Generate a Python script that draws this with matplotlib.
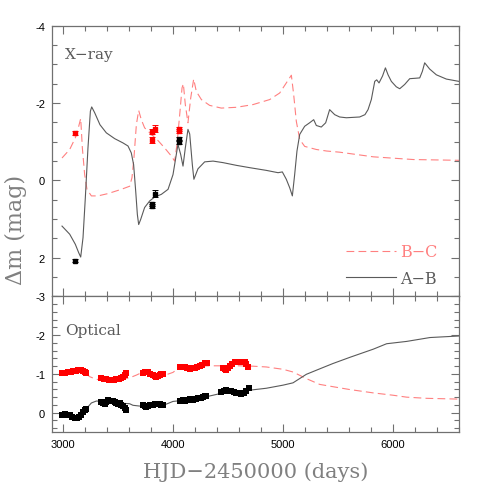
import matplotlib
matplotlib.use("Agg")
import matplotlib.pyplot as plt
from matplotlib.ticker import MultipleLocator, FixedLocator
from matplotlib.lines import Line2D

plt.rcParams['axes.unicode_minus'] = False

# ---------------- X-ray panel: model curves ----------------
xr_ab_x = [2991, 3061, 3112, 3143, 3161, 3182, 3203, 3227, 3249, 3261, 3288, 3336, 3394, 3470,
           3545, 3591, 3621, 3642, 3661, 3676, 3688, 3706, 3742, 3788, 3833, 3894, 3955, 4000,
           4030, 4045, 4070, 4091, 4112, 4136, 4152, 4176, 4190, 4227, 4288, 4364, 4455, 4576,
           4697, 4848, 4955, 4994, 5030, 5061, 5085, 5106, 5127, 5152, 5197, 5242, 5279, 5303,
           5348, 5388, 5424, 5470, 5515, 5576, 5697, 5745, 5773, 5803, 5834, 5852, 5873, 5905, 5931, 5955, 5985,
           6030, 6061, 6106, 6152, 6200, 6243, 6267, 6288, 6333, 6394, 6485, 6600]
xr_ab_y = [1.18, 1.39, 1.65, 1.87, 1.98, 1.48, 0.45, -0.84, -1.79, -1.90, -1.75, -1.44, -1.23, -1.08,
           -0.97, -0.89, -0.71, -0.41, 0.28, 0.88, 1.14, 1.01, 0.70, 0.53, 0.43, 0.36, 0.23, -0.15,
           -0.67, -0.93, -0.67, -0.37, -0.84, -1.32, -1.20, -0.40, -0.03, -0.30, -0.48, -0.50, -0.46, -0.39,
           -0.33, -0.26, -0.20, -0.22, -0.03, 0.19, 0.40, -0.15, -0.76, -1.19, -1.40, -1.49, -1.57, -1.42,
           -1.38, -1.49, -1.83, -1.70, -1.64, -1.62, -1.64, -1.70, -1.83, -2.09, -2.56, -2.60, -2.52, -2.70, -2.91, -2.73, -2.56,
           -2.42, -2.37, -2.48, -2.63, -2.64, -2.65, -2.82, -3.04, -2.88, -2.73, -2.62, -2.56]

xr_bc_x = [2991, 3061, 3112, 3143, 3161, 3176, 3197, 3218, 3258, 3318, 3409, 3530, 3606, 3627,
           3645, 3667, 3688, 3712, 3742, 3803, 3864, 3924, 3985, 4015, 4036, 4061, 4082, 4094,
           4112, 4136, 4161, 4188, 4212, 4258, 4333, 4439, 4576, 4727, 4879, 4970, 5030, 5076,
           5097, 5121, 5152, 5197, 5303, 5397, 5515, 5821, 6185, 6600]
xr_bc_y = [-0.58, -0.80, -1.10, -1.40, -1.60, -0.84, -0.15, 0.23, 0.40, 0.40, 0.34, 0.23, 0.15, -0.07,
           -0.58, -1.44, -1.81, -1.57, -1.36, -1.19, -1.03, -0.84, -0.63, -0.50, -0.93, -1.70, -2.39, -2.50,
           -1.96, -1.49, -2.13, -2.62, -2.30, -2.09, -1.94, -1.87, -1.89, -1.96, -2.09, -2.26, -2.52, -2.72,
           -2.22, -1.53, -1.06, -0.88, -0.80, -0.76, -0.73, -0.61, -0.54, -0.52]

# ---------------- X-ray panel: measurements ----------------
xr_bc_obs_x = [3112, 3809, 3833, 3812, 4052, 4052]
xr_bc_obs_y = [-1.23, -1.26, -1.34, -1.05, -1.33, -1.28]
xr_bc_obs_e = [0.05, 0.06, 0.09, 0.07, 0.06, 0.06]

xr_ab_obs_x = [3112, 3809, 3809, 3839, 4052, 4052]
xr_ab_obs_y = [2.08, 0.62, 0.66, 0.34, -1.08, -1.00]
xr_ab_obs_e = [0.04, 0.05, 0.05, 0.08, 0.05, 0.05]

# ---------------- Optical panel: model curves ----------------
op_bc_x = [3000, 3100, 3200, 3242, 3303, 3400, 3500, 3606, 3667, 3697, 3800, 3939, 4000, 4045,
           4150, 4250, 4333, 4394, 4500, 4600, 4727, 4848, 5000, 5091, 5212, 5333, 5455, 5600,
           5821, 6000, 6124, 6306, 6600]
op_bc_y = [-1.02, -1.07, -1.03, -0.93, -0.86, -0.84, -0.85, -0.90, -0.97, -1.01, -1.02, -0.98, -1.04, -1.14,
           -1.17, -1.20, -1.21, -1.21, -1.21, -1.21, -1.20, -1.18, -1.12, -1.05, -0.88, -0.73, -0.67, -0.60,
           -0.51, -0.45, -0.40, -0.37, -0.35]

op_ab_x = [3000, 3060, 3110, 3160, 3212, 3258, 3303, 3400, 3500, 3606, 3636, 3697, 3800, 3939,
           4000, 4100, 4200, 4300, 4364, 4424, 4550, 4697, 4848, 5000, 5091, 5212, 5333, 5455,
           5609, 5821, 5942, 6124, 6336, 6600]
op_ab_y = [0.03, 0.07, 0.12, 0.05, -0.10, -0.25, -0.30, -0.29, -0.25, -0.23, -0.19, -0.17, -0.19, -0.22,
           -0.29, -0.32, -0.35, -0.41, -0.45, -0.49, -0.53, -0.58, -0.63, -0.71, -0.77, -0.99, -1.13, -1.27,
           -1.43, -1.64, -1.78, -1.84, -1.94, -1.98]

# ---------------- Optical panel: measurements ----------------
op_bc_obs_x = [2988, 3015, 3045, 3070, 3091, 3115, 3136, 3160, 3182, 3200, 3212,
               3349, 3370, 3394, 3415, 3440, 3462, 3485, 3508, 3530, 3548, 3561, 3576,
               3727, 3750, 3773, 3795, 3818, 3835, 3849, 3865, 3879, 3895, 3909,
               4061, 4085, 4106, 4130, 4152, 4175, 4197, 4220, 4242, 4265, 4288, 4309,
               4455, 4470, 4485, 4500, 4515, 4538, 4561, 4585, 4606, 4630, 4652, 4668, 4682]
op_bc_obs_y = [-1.03, -1.02, -1.04, -1.05, -1.07, -1.08, -1.10, -1.10, -1.08, -1.05, -1.02,
               -0.90, -0.88, -0.86, -0.85, -0.84, -0.85, -0.86, -0.88, -0.90, -0.93, -0.97, -1.03,
               -1.03, -1.04, -1.05, -1.01, -0.97, -0.94, -0.92, -0.95, -0.98, -1.00, -1.01,
               -1.17, -1.18, -1.18, -1.16, -1.14, -1.15, -1.16, -1.19, -1.21, -1.24, -1.27, -1.29,
               -1.16, -1.13, -1.10, -1.16, -1.21, -1.26, -1.30, -1.31, -1.31, -1.31, -1.30, -1.25, -1.18]

op_ab_obs_x = [2988, 3015, 3040, 3061, 3085, 3106, 3127, 3150, 3167, 3185, 3197, 3212,
               3349, 3365, 3379, 3395, 3409, 3425, 3440, 3455, 3470, 3485, 3500, 3515, 3530, 3546, 3561, 3576,
               3727, 3743, 3758, 3773, 3788, 3803, 3818, 3834, 3849, 3864, 3879, 3894, 3909,
               4061, 4076, 4091, 4106, 4121, 4137, 4152, 4167, 4182, 4197, 4212, 4227, 4242, 4258, 4273, 4288, 4303,
               4440, 4462, 4485, 4508, 4531, 4553, 4576, 4599, 4622, 4645, 4667, 4691]
op_ab_obs_y = [0.05, 0.03, 0.05, 0.07, 0.10, 0.14, 0.13, 0.11, 0.05, -0.02, -0.06, -0.10,
               -0.28, -0.25, -0.23, -0.28, -0.32, -0.30, -0.29, -0.31, -0.28, -0.26, -0.23, -0.24, -0.21, -0.17, -0.12, -0.06,
               -0.19, -0.17, -0.15, -0.17, -0.19, -0.20, -0.21, -0.22, -0.23, -0.22, -0.22, -0.21, -0.21,
               -0.29, -0.31, -0.32, -0.31, -0.32, -0.33, -0.34, -0.33, -0.32, -0.34, -0.36, -0.37, -0.38, -0.39, -0.41, -0.42, -0.43,
               -0.54, -0.56, -0.58, -0.57, -0.55, -0.53, -0.51, -0.50, -0.49, -0.51, -0.55, -0.64]

# ---------------- styles ----------------
GRAY = '#5a5a5a'
LRED = '#ff8080'
SPINE = '#707070'
SERIF = ['DejaVu Serif']
TICKFONT = 'Liberation Sans'
LW = 0.8

fig = plt.figure(figsize=(4.85, 4.85), dpi=100)
ax1 = fig.add_axes([0.1072, 0.3866, 0.8392, 0.5584])
ax2 = fig.add_axes([0.1072, 0.1072, 0.8392, 0.2794], sharex=ax1)

dash = (7.0, 3.8)

# top panel
ax1.plot(xr_bc_x, xr_bc_y, color=LRED, lw=LW, dashes=dash)
ax1.plot(xr_ab_x, xr_ab_y, color=GRAY, lw=LW)
ax1.errorbar(xr_bc_obs_x, xr_bc_obs_y, yerr=xr_bc_obs_e, fmt='s', color='#ff0000', ms=3,
             elinewidth=0.7, capsize=2, capthick=0.7)
ax1.errorbar(xr_ab_obs_x, xr_ab_obs_y, yerr=xr_ab_obs_e, fmt='s', color='black', ms=3,
             elinewidth=0.7, capsize=2, capthick=0.7)
ax1.set_xlim(2900, 6600)
ax1.set_ylim(3, -4)
ax1.yaxis.set_major_locator(MultipleLocator(2))
ax1.yaxis.set_minor_locator(MultipleLocator(0.5))
ax1.text(0.032, 0.896, 'X\u2212ray', transform=ax1.transAxes, fontsize=11, color=GRAY,
         family=SERIF, va='center', ha='left')

handles = [Line2D([], [], color=LRED, lw=LW, dashes=dash),
           Line2D([], [], color=GRAY, lw=LW)]
leg = ax1.legend(handles, ['B\u2212C', 'A\u2212B'], loc='lower right',
                 bbox_to_anchor=(0.948, 0.035), frameon=False, prop={'family': SERIF, 'size': 11.5},
                 handlelength=3.1, handletextpad=0.3, labelspacing=0.6, borderpad=0, borderaxespad=0)
for t, c in zip(leg.get_texts(), [LRED, GRAY]):
    t.set_color(c)

# bottom panel
ax2.plot(op_bc_x, op_bc_y, color=LRED, lw=LW, dashes=dash)
ax2.plot(op_ab_x, op_ab_y, color=GRAY, lw=LW)
ax2.plot(op_bc_obs_x, op_bc_obs_y, 's', color='#ff0000', ms=4, mew=0)
ax2.plot(op_ab_obs_x, op_ab_obs_y, 's', color='black', ms=4, mew=0)
ax2.set_ylim(0.5, -3)
ax2.yaxis.set_major_locator(MultipleLocator(1))
ax2.yaxis.set_minor_locator(MultipleLocator(0.2))
ax2.xaxis.set_major_locator(FixedLocator([3000, 4000, 5000, 6000]))
ax2.xaxis.set_minor_locator(MultipleLocator(200))
ax2.text(0.032, 0.755, 'Optical', transform=ax2.transAxes, fontsize=11, color=GRAY,
         family=SERIF, va='center', ha='left')

for ax in (ax1, ax2):
    for s in ax.spines.values():
        s.set_color(SPINE)
        s.set_linewidth(0.9)
    ax.tick_params(which='both', direction='in', top=True, right=True, color=SPINE, width=0.8)
    ax.tick_params(which='major', length=6)
    ax.tick_params(which='minor', length=3.5)
    ax.tick_params(labelsize=8, pad=5)
    for lab in ax.get_xticklabels() + ax.get_yticklabels():
        lab.set_family(TICKFONT)
ax1.tick_params(labelbottom=False)
ax1.xaxis.set_minor_locator(MultipleLocator(200))
ax1.xaxis.set_major_locator(FixedLocator([3000, 4000, 5000, 6000]))

fig.text(0.527, 1 - 472 / 485, 'HJD\u22122450000 (days)', fontsize=15, color='#808080',
         family=SERIF, ha='center', va='center')
fig.text(16 / 485, 1 - 230 / 485, '\u0394m (mag)', fontsize=16, color='#808080',
         family=SERIF, ha='center', va='center', rotation=90)

fig.savefig('out.png', dpi=100)
